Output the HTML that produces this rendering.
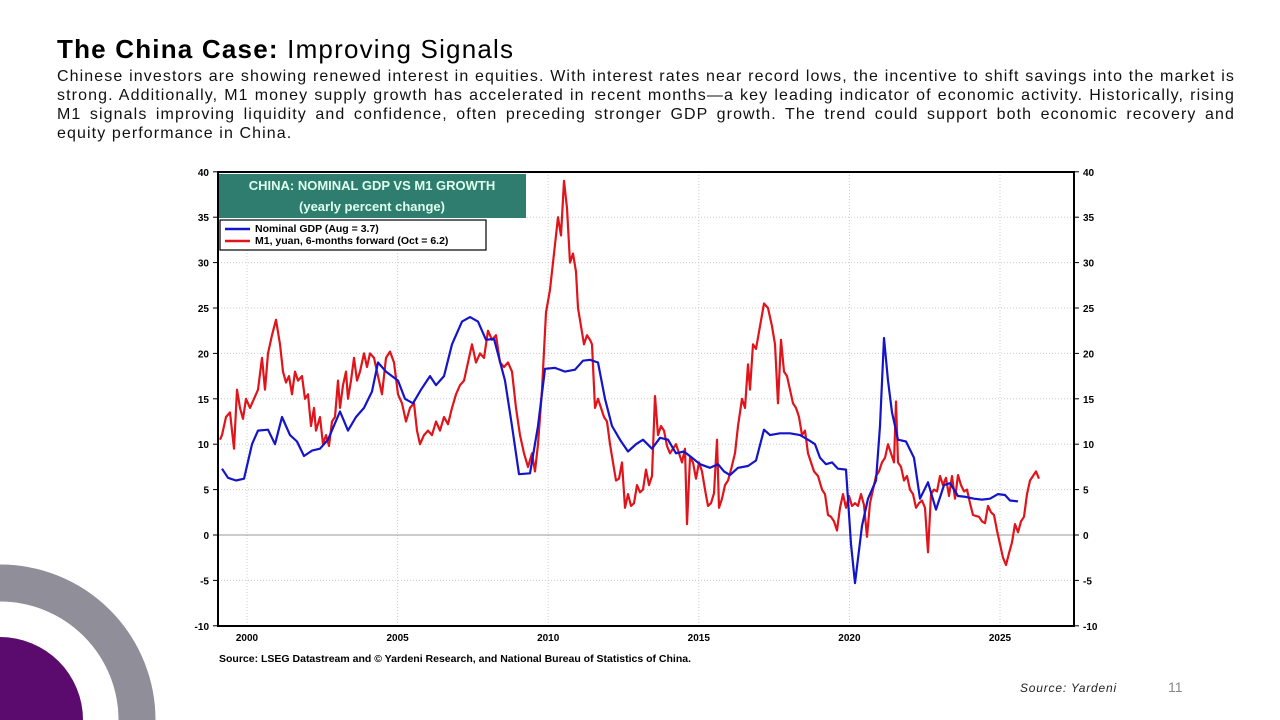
<!DOCTYPE html><html style="overflow:hidden"><head><meta charset="utf-8"><style>
html,body{margin:0;width:1280px;height:720px;overflow:hidden}
body{background:#fff;font-family:"Liberation Sans",sans-serif;position:relative}
h1{position:absolute;left:57px;top:34px;margin:0;font-size:26px;font-weight:normal;color:#000;letter-spacing:1.2px}
h1 b{font-weight:bold}
p{position:absolute;left:57px;top:67px;width:1178px;margin:0;font-size:16px;letter-spacing:1.1px;line-height:19px;text-align:justify;color:#111}
svg{display:block}
</style></head><body>
<svg width="1280" height="720" style="position:absolute;left:0;top:0">
<circle cx="0" cy="720" r="137" fill="none" stroke="#8f8e99" stroke-width="37"/>
<circle cx="0" cy="720" r="83" fill="#5b0a6e"/>
<g id="grid"></g>
<line x1="218" y1="535" x2="1074" y2="535" stroke="#999" stroke-width="1"/>
<rect x="218" y="172" width="856" height="454" fill="none" stroke="#000" stroke-width="2"/>
<g id="ticks" font-size="10" font-weight="bold" fill="#000"></g>
<polyline id="red" fill="none" stroke="#e0141b" stroke-width="2.2" stroke-linejoin="round"/>
<polyline id="blue" fill="none" stroke="#1414c8" stroke-width="2.2" stroke-linejoin="round"/>
<rect x="219" y="174" width="307" height="44" fill="#2e7d6e"/>
<text x="372" y="190" text-anchor="middle" font-size="13" font-weight="bold" fill="#dfe">CHINA: NOMINAL GDP VS M1 GROWTH</text>
<text x="372" y="211" text-anchor="middle" font-size="13" font-weight="bold" fill="#dfe">(yearly percent change)</text>
<rect x="220" y="220" width="266" height="30" fill="#fff" stroke="#000" stroke-width="1.2"/>
<line x1="225" y1="229" x2="250" y2="229" stroke="#1414c8" stroke-width="2.5"/>
<line x1="225" y1="241" x2="250" y2="241" stroke="#e0141b" stroke-width="2.5"/>
<text x="255" y="232" font-size="10.5" font-weight="bold">Nominal GDP (Aug = 3.7)</text>
<text x="255" y="244" font-size="10.5" font-weight="bold">M1, yuan, 6-months forward (Oct = 6.2)</text>
<text x="219" y="662" font-size="10.5" font-weight="bold">Source: LSEG Datastream and © Yardeni Research, and National Bureau of Statistics of China.</text>
<text x="1020" y="692" font-size="12" font-style="italic" fill="#222" letter-spacing="0.8">Source: Yardeni</text>
<text x="1168" y="692" font-size="14" fill="#888">11</text>
</svg>
<h1><b>The China Case:</b> Improving Signals</h1>
<p>Chinese investors are showing renewed interest in equities. With interest rates near record lows, the incentive to shift savings into the market is strong. Additionally, M1 money supply growth has accelerated in recent months—a key leading indicator of economic activity. Historically, rising M1 signals improving liquidity and confidence, often preceding stronger GDP growth. The trend could support both economic recovery and equity performance in China.</p>
<script>
const Y=v=>535-v*9.08;
const B=[222,7.3,228,6.3,236,6,244,6.2,252,10,258,11.5,268,11.6,275,10,282,13,290,11,297,10.3,304,8.7,312,9.3,320,9.5,328,10.5,340,13.6,348,11.5,356,13,364,14,372,15.8,378,19,386,18,398,17,405,15,413,14.5,421,16,430,17.5,436,16.5,444,17.5,452,21,462,23.5,470,24,478,23.5,486,21.5,494,21.6,505,17,512,12,519,6.7,530,6.8,538,12,545,18.3,555,18.4,565,18,575,18.2,583,19.2,590,19.3,598,19,605,15,612,12,620,10.5,628,9.2,636,10,643,10.5,652,9.5,660,10.7,668,10.5,676,9,684,9.2,692,8.5,700,7.8,710,7.4,718,7.8,724,7,730,6.6,738,7.4,748,7.6,756,8.2,764,11.6,770,11,780,11.2,790,11.2,800,11,808,10.5,815,10,820,8.5,826,7.8,832,8,838,7.3,846,7.2,851,-1,855,-5.3,862,1,868,4,876,6,880,12,884,21.7,888,17,892,13.5,898,10.5,906,10.3,914,8.5,920,4,928,5.8,936,2.8,944,5.5,950,5.7,958,4.3,966,4.2,974,4,982,3.9,990,4,998,4.5,1005,4.4,1010,3.8,1018,3.7];
const R=[220,10.5,222,11,226,13,230,13.5,234,9.5,237,16,240,14,243,12.8,246,15,250,14,254,15,258,16,262,19.5,265,16,268,20,272,22,276,23.7,280,21,283,18,286,16.8,289,17.5,292,15.5,295,18,298,17,302,17.5,305,15,308,15.5,311,12,314,14,316,11.5,320,13,323,10,326,11,329,9.8,332,12.5,335,13,338,17,340,14,343,16.5,346,18,348,15,351,17,354,19.5,357,17,360,18,364,20,367,18.5,370,20,374,19.5,378,17.5,382,15.5,386,19.5,390,20.2,394,19,398,15.5,402,14.5,406,12.5,410,14,414,14.5,417,11.5,420,10,424,11,428,11.5,432,11,436,12.5,440,11.5,444,13,448,12.2,452,14,456,15.5,460,16.5,464,17,468,19,472,21,476,19,480,20,484,19.5,488,22.5,492,21.5,496,22,500,19,504,18.5,508,19,512,18,516,14,520,11,524,9,528,7.5,532,9,535,7,538,10,542,16,546,24.5,550,27,554,31,558,35,561,33,564,39,567,36,570,30,573,31,576,29,578,25,581,23,584,21,587,22,590,21.5,592,21,595,14,598,15,601,14,604,13,607,12.5,610,10,613,8,616,6,619,6.2,622,8,625,3,628,4.5,631,3.2,634,3.5,637,5.5,640,4.7,643,5,646,7.2,649,5.5,652,6.5,655,15.3,658,11,661,12,664,11.5,667,9.8,670,9,673,9.5,676,10,679,9,682,8,685,9.5,687,1.2,690,8.5,693,8,696,6.2,699,8,702,7,705,5,708,3.2,711,3.5,714,4.6,717,10.5,719,3,722,4,725,5.5,728,6,731,7.2,735,9,738,12,742,15,745,14,748,18.8,750,16,753,21,756,20.5,760,23,764,25.5,768,25,772,23,775,21,778,14.5,781,21.5,784,18,787,17.5,790,16,793,14.5,796,14,799,13,802,11,805,11.5,808,9,811,8,814,7,818,6.5,822,5,825,4.5,828,2.2,831,2,834,1.5,837,0.5,840,3,843,4.5,846,3,849,4.3,852,3.2,855,3.5,858,3.2,861,4.5,864,3.3,867,-0.2,870,3.5,873,5,876,6.5,879,7,882,8,885,8.5,888,10,891,9,894,8,896,14.7,898,8,901,7.5,904,6,907,6.5,910,5,913,4.5,916,3,919,3.5,922,3.8,925,3,928,-1.9,931,4.5,934,5,937,4.8,940,6.5,943,5.5,946,6.3,949,4.3,952,6.5,955,4,958,6.6,961,5.5,964,4.8,967,5,970,3.5,973,2.2,976,2.1,979,2,982,1.5,985,1.3,988,3.2,991,2.5,994,2.2,997,0.5,1000,-1,1003,-2.5,1006,-3.3,1009,-2,1012,-0.8,1015,1.2,1018,0.3,1021,1.5,1024,2,1027,4.5,1030,6,1033,6.5,1036,7,1039,6.2];
const pts=a=>{let s=[];for(let i=0;i<a.length;i+=2)s.push(a[i]+','+Y(a[i+1]).toFixed(1));return s.join(' ')};
document.getElementById('blue').setAttribute('points',pts(B));
document.getElementById('red').setAttribute('points',pts(R));
const NS='http://www.w3.org/2000/svg',g=document.getElementById('grid'),t=document.getElementById('ticks');
function el(p,n,a,txt){const e=document.createElementNS(NS,n);for(const k in a)e.setAttribute(k,a[k]);if(txt!==undefined)e.textContent=txt;p.appendChild(e);}
for(let v=-10;v<=40;v+=5){const y=Y(v);
 if(v>-10&&v<40&&v!==0)el(g,'line',{x1:218,x2:1074,y1:y,y2:y,stroke:'#ccc','stroke-dasharray':'1,2'});
 el(t,'text',{x:209,y:y+4,'text-anchor':'end'},v);el(t,'text',{x:1083,y:y+4},v);
 el(t,'line',{x1:213,x2:218,y1:y,y2:y,stroke:'#000'});el(t,'line',{x1:1074,x2:1079,y1:y,y2:y,stroke:'#000'});}
for(let yr=2000;yr<=2025;yr+=5){const x=247+(yr-2000)*30.12;
 el(g,'line',{x1:x,x2:x,y1:172,y2:626,stroke:'#ccc','stroke-dasharray':'1,2'});
 el(t,'text',{x:x,y:641,'text-anchor':'middle'},yr);}
</script>
</body></html>
